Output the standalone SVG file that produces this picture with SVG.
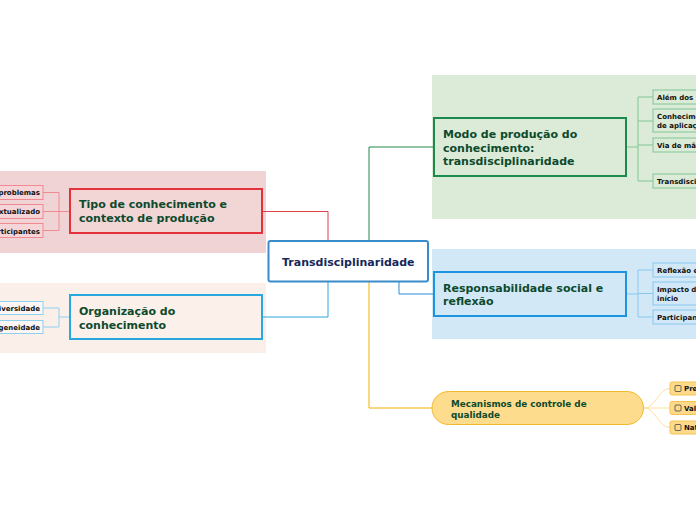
<svg xmlns="http://www.w3.org/2000/svg" width="696" height="520" viewBox="0 0 696 520">
<style>
.t{font-family:"DejaVu Sans",Verdana,sans-serif;font-weight:bold;font-size:11px;fill:#0d4a2c}
.c{font-family:"DejaVu Sans",Verdana,sans-serif;font-weight:bold;font-size:11px;fill:#15285a}
.l{font-family:"DejaVu Sans",Verdana,sans-serif;font-weight:bold;font-size:7px;fill:#111}
.o{font-family:"DejaVu Sans",Verdana,sans-serif;font-weight:bold;font-size:8.8px;fill:#0d4a2c}
.cn{fill:none;stroke-width:1}
</style>
<rect width="696" height="520" fill="#ffffff"/>
<!-- background regions -->
<rect x="0" y="171" width="266" height="82" fill="#f0d4d5"/>
<rect x="0" y="283" width="266" height="70" fill="#fbefea"/>
<rect x="432" y="75" width="264" height="144" fill="#dcebd8"/>
<rect x="432" y="249" width="264" height="90" fill="#d3e8f7"/>

<g id="connectors" class="cn">
  <path d="M328,241 V211.5 H263" stroke="#e0404a"/>
  <path d="M369,241 V147 H434" stroke="#1e8a4a"/>
  <path d="M328,281 V317 H263" stroke="#2aa6e2"/>
  <path d="M399,281 V294 H434" stroke="#2b8fd8"/>
  <path d="M369,281 V408 H432" stroke="#f5b000"/>
  <!-- red leaves -->
  <path d="M70,211.5 H59 M43,192.5 H59 V230.5 H43 M43,211.5 H59" stroke="#f08a90"/>
  <!-- left blue leaves -->
  <path d="M70,317 H59 M43,308 H59 V327 H43" stroke="#8ed0f0"/>
  <!-- green leaves -->
  <path d="M626,147 H638 M653,97 H638 V181 H653 M638,121 H653 M638,145 H653" stroke="#7fc796"/>
  <!-- right blue leaves -->
  <path d="M626,294 H638 M653,270 H638 V317 H653 M638,293.5 H653" stroke="#86c7ef"/>
  <!-- orange leaves -->
  <path d="M644,408 C656,408 658,388.5 670,388.5 M644,408 H670 M644,408 C656,408 658,427.5 670,427.5" stroke="#fde0a0"/>
</g>

<g id="central">
  <rect x="268.5" y="241" width="159.5" height="40.5" rx="2" fill="#ffffff" stroke="#3a8bc9" stroke-width="2"/>
  <text class="c" x="348.3" y="265.5" text-anchor="middle">Transdisciplinaridade</text>
</g>

<g id="tipo">
  <rect x="70" y="189" width="192" height="44" fill="#f2d5d5" stroke="#e4323d" stroke-width="2"/>
  <text class="t" x="79" y="208">Tipo de conhecimento e</text>
  <text class="t" x="79" y="222">contexto de produção</text>
</g>
<g id="tipo-leaves">
  <rect x="-5" y="185.5" width="48" height="14" fill="#f5d5d7" stroke="#f08a90"/>
  <text class="l" x="40" y="195" text-anchor="end">problemas</text>
  <rect x="-5" y="204.5" width="48" height="14" fill="#f5d5d7" stroke="#f08a90"/>
  <text class="l" x="40" y="214" text-anchor="end">xtualizado</text>
  <rect x="-5" y="223.5" width="48" height="14" fill="#f5d5d7" stroke="#f08a90"/>
  <text class="l" x="40" y="233.5" text-anchor="end">rticipantes</text>
</g>

<g id="organizacao">
  <rect x="70" y="295" width="192" height="44" fill="#fcf0eb" stroke="#29a8e0" stroke-width="2"/>
  <text class="t" x="79" y="315">Organização do</text>
  <text class="t" x="79" y="328.5">conhecimento</text>
</g>
<g id="organizacao-leaves">
  <rect x="-5" y="301.5" width="48" height="13" fill="#fbf5f3" stroke="#8ed0f0"/>
  <text class="l" x="40" y="310.5" text-anchor="end">iversidade</text>
  <rect x="-5" y="320.5" width="48" height="13" fill="#fbf5f3" stroke="#8ed0f0"/>
  <text class="l" x="40" y="329.5" text-anchor="end">geneidade</text>
</g>

<g id="modo">
  <rect x="434" y="118" width="192" height="58" fill="#dcebd8" stroke="#1c8a4c" stroke-width="2"/>
  <text class="t" x="443" y="138">Modo de produção do</text>
  <text class="t" x="443" y="151.5">conhecimento:</text>
  <text class="t" x="443" y="165">transdisciplinaridade</text>
</g>
<g id="modo-leaves">
  <rect x="653" y="90" width="60" height="14" fill="#dcebd8" stroke="#7fc796"/>
  <text class="l" x="657" y="99.5">Além dos</text>
  <rect x="653" y="109" width="60" height="23" fill="#dcebd8" stroke="#7fc796"/>
  <text class="l" x="657" y="119">Conhecimento</text>
  <text class="l" x="657" y="128">de aplicação</text>
  <rect x="653" y="138" width="60" height="14" fill="#dcebd8" stroke="#7fc796"/>
  <text class="l" x="657" y="147.5">Via de mão</text>
  <rect x="653" y="174" width="60" height="14" fill="#dcebd8" stroke="#7fc796"/>
  <text class="l" x="657" y="183.5">Transdisciplinaridade</text>
</g>

<g id="responsabilidade">
  <rect x="434" y="272" width="192" height="44" fill="#d3e8f7" stroke="#1c94e0" stroke-width="2"/>
  <text class="t" x="443" y="292">Responsabilidade social e</text>
  <text class="t" x="443" y="305">reflexão</text>
</g>
<g id="responsabilidade-leaves">
  <rect x="653" y="263" width="60" height="14" fill="#d3e8f7" stroke="#86c7ef"/>
  <text class="l" x="657" y="272.5">Reflexão e</text>
  <rect x="653" y="282" width="60" height="23" fill="#d3e8f7" stroke="#86c7ef"/>
  <text class="l" x="657" y="292">Impacto desde o</text>
  <text class="l" x="657" y="301">início</text>
  <rect x="653" y="310" width="60" height="14" fill="#d3e8f7" stroke="#86c7ef"/>
  <text class="l" x="657" y="319.5">Participantes</text>
</g>

<g id="mecanismos">
  <rect x="432" y="391.5" width="211.5" height="33" rx="16.5" fill="#fddc8e" stroke="#f5b82b" stroke-width="1"/>
  <text class="o" x="451" y="406.5">Mecanismos de controle de</text>
  <text class="o" x="451" y="417.5">qualidade</text>
</g>
<g id="mecanismos-leaves">
  <rect x="670" y="382" width="40" height="13" rx="2" fill="#fdd98a" stroke="#f5c350"/>
  <rect x="675" y="385.5" width="6" height="6" rx="1" fill="none" stroke="#444" stroke-width="0.8"/>
  <text class="l" x="684" y="391">Pre</text>
  <rect x="670" y="401.5" width="40" height="13" rx="2" fill="#fdd98a" stroke="#f5c350"/>
  <rect x="675" y="405" width="6" height="6" rx="1" fill="none" stroke="#444" stroke-width="0.8"/>
  <text class="l" x="684" y="410.5">Val</text>
  <rect x="670" y="421" width="40" height="13" rx="2" fill="#fdd98a" stroke="#f5c350"/>
  <rect x="675" y="424.5" width="6" height="6" rx="1" fill="none" stroke="#444" stroke-width="0.8"/>
  <text class="l" x="684" y="430">Nat</text>
</g>
</svg>
